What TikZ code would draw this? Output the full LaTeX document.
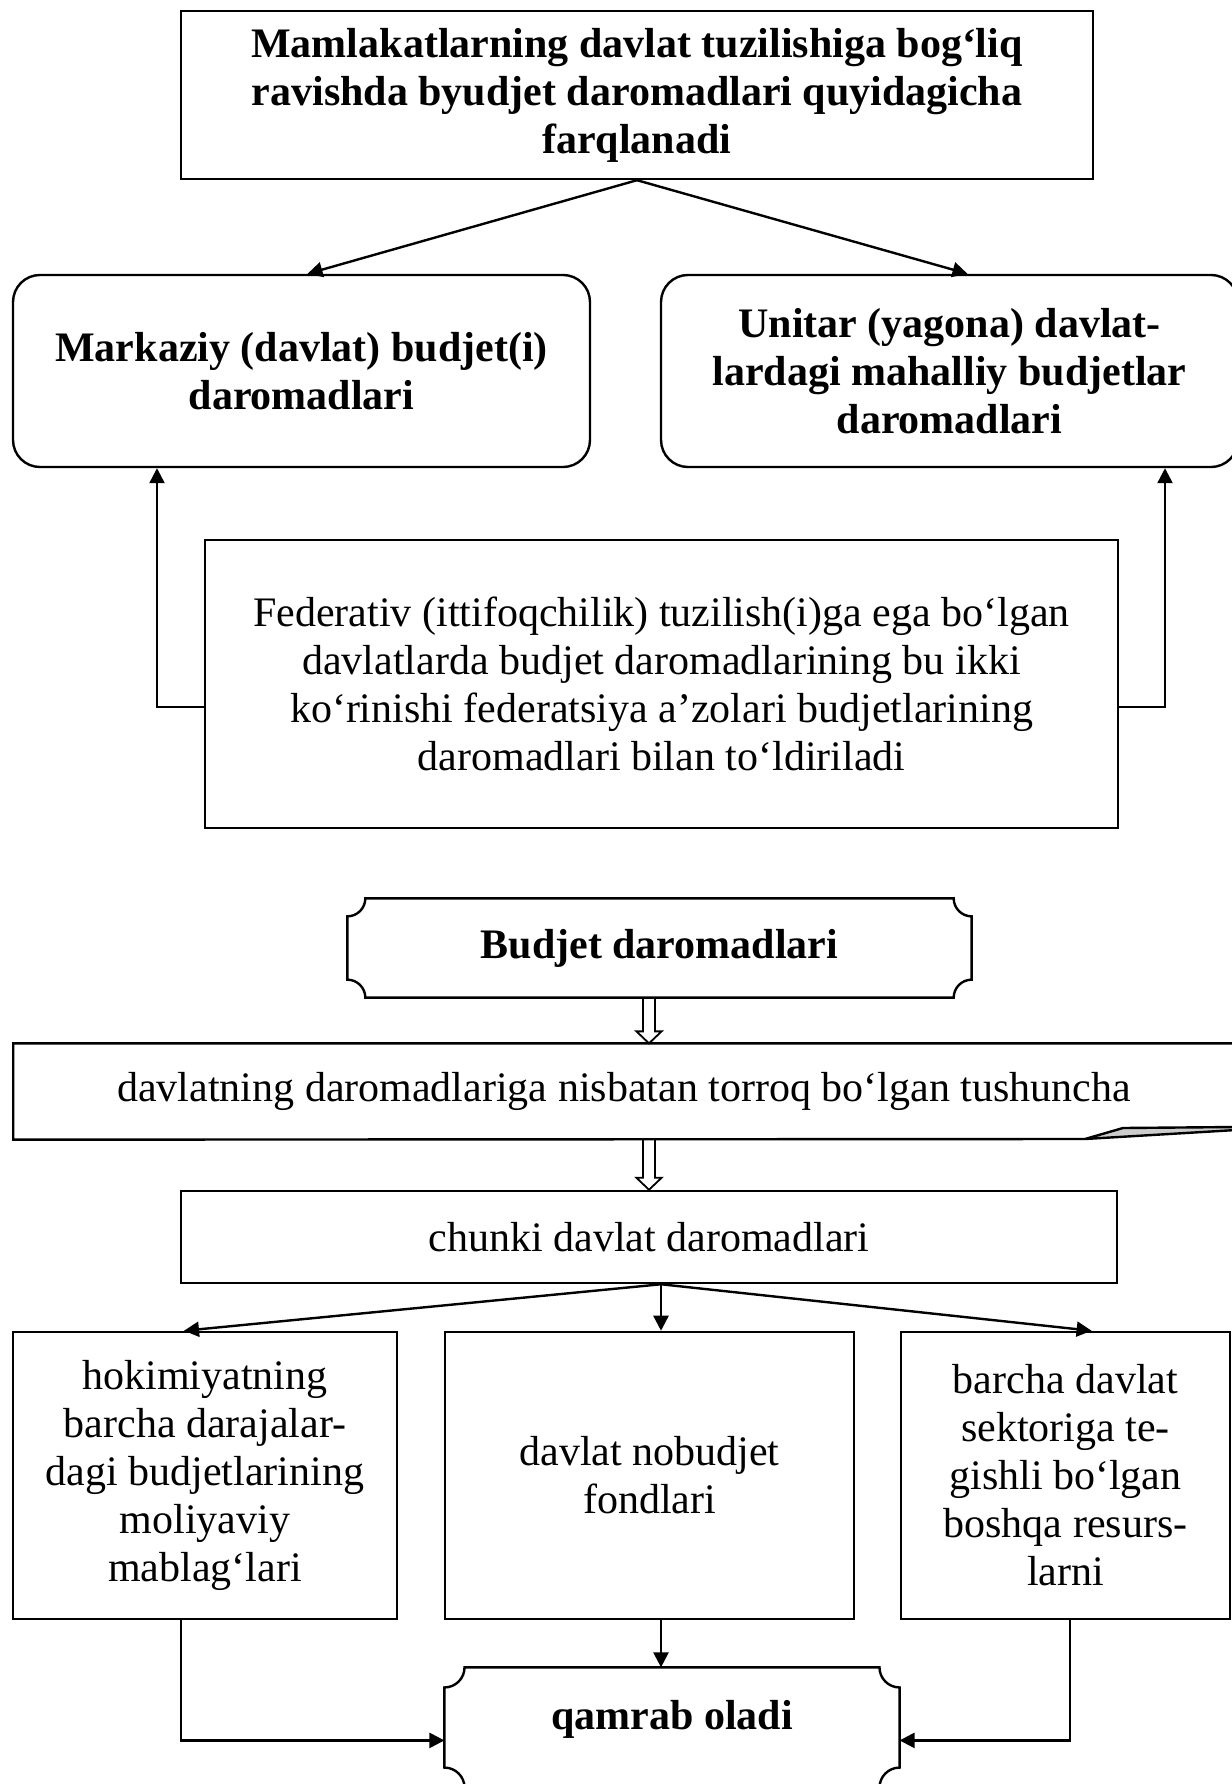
\documentclass[tikz,border=0pt]{standalone}
\usepackage{fontspec}
\setmainfont{Liberation Serif}
\usetikzlibrary{positioning, calc, arrows.meta}

% frame with concave corners round a node
\newcommand{\plaqueframe}[2]{%
  \draw[line width=0.8pt] ([xshift=#2]#1.north west) -- ([xshift=-#2]#1.north east)
    arc[start angle=180, end angle=270, radius=#2]
    -- ([yshift=#2]#1.south east)
    arc[start angle=90, end angle=180, radius=#2]
    -- ([xshift=#2]#1.south west)
    arc[start angle=0, end angle=90, radius=#2]
    -- ([yshift=-#2]#1.north west)
    arc[start angle=270, end angle=360, radius=#2]
    -- cycle;}

% hollow arrow pointing down
\newcommand{\hollowdown}[2]{%
  \draw[line width=0.6pt] let \p1=(#1), \p2=(#2) in
    (\x1-2pt,\y1) -- (\x1-2pt,\y2+4pt) -- (\x1-4.2pt,\y2+4pt) -- (\x1,\y2)
    -- (\x1+4.2pt,\y2+4pt) -- (\x1+2pt,\y2+4pt) -- (\x1+2pt,\y1);}

\begin{document}
\begin{tikzpicture}[x=0.3333pt, y=-0.3333pt,
every node/.style={text centered, align=center, inner sep=2pt, font=\fontsize{14}{16}\selectfont},
bold/.style={font=\fontsize{14}{16}\selectfont\bfseries},
box/.style={draw, line width=0.8pt},
roundbox/.style={draw, line width=0.8pt, rounded corners=9pt},
arrow/.style={-{Triangle[length=5pt, width=5pt]}, line width=0.8pt}]
    \useasboundingbox (0,0) rectangle (1231,1784);

    % upper scheme
    \node[box, bold, minimum width=304pt, minimum height=56pt] (types) at (637,95)
        {Mamlakatlarning davlat tuzilishiga bog‘liq\\ ravishda byudjet daromadlari quyidagicha\\ farqlanadi};
    \node[roundbox, bold, minimum width=192.3pt, minimum height=64pt] (central) at (301.5,371)
        {Markaziy (davlat) budjet(i)\\ daromadlari};
    \node[roundbox, bold, minimum width=192.3pt, minimum height=64pt] (unitar) at (949.5,371)
        {Unitar (yagona) davlat-\\ lardagi mahalliy budjetlar\\ daromadlari};
    \node[box, minimum width=304.3pt, minimum height=96pt] (federal) at (661.5,684)
        {Federativ (ittifoqchilik) tuzilish(i)ga ega bo‘lgan\\ davlatlarda budjet daromadlarining bu ikki\\ ko‘rinishi federatsiya a’zolari budjetlarining\\ daromadlari bilan to‘ldiriladi};

    \draw[arrow] (types.south) -- ([xshift=2pt]central.north);
    \draw[arrow] (types.south) -- ([xshift=6pt]unitar.north);

    \coordinate (fedleft) at (157,707);
    \coordinate (fedright) at (1165,707);
    \draw[arrow] (federal.west |- fedleft) -- (fedleft) -- (fedleft |- central.south);
    \draw[arrow] (federal.east |- fedright) -- (fedright) -- (fedright |- unitar.south);

    % lower scheme
    \node[bold, minimum width=207.7pt, minimum height=32.7pt] (budget) at (659.5,948) {Budjet daromadlari};
    \plaqueframe{budget}{6pt}
    \node[minimum width=406.7pt, minimum height=31.7pt] (broader) at (624,1091.5)
        {davlatning daromadlariga nisbatan torroq bo‘lgan tushuncha};
    \coordinate (foldA) at (1085,1139);
    \coordinate (foldB) at (1123,1128);
    \coordinate (foldC) at (1236,1127);
    \coordinate (foldD) at (1236,1130);
    \draw[line width=0.8pt] (foldA) -- (broader.south west) -- (broader.north west) -- (broader.north east) -- (foldD);
    \filldraw[fill=gray!40, line width=0.8pt, line join=round] (foldA) -- (foldB) -- (foldC) -- (foldD) -- cycle;
    \node[box, minimum width=312pt, minimum height=30.7pt] (because) at (649,1237) {chunki davlat daromadlari};

    \hollowdown{budget.south -| because.north}{broader.north -| because.north}
    \hollowdown{broader.south -| because.north}{because.north}

    \node[box, minimum width=128pt, minimum height=95.7pt] (levels) at (205,1475.5)
        {hokimiyatning\\ barcha darajalar-\\ dagi budjetlarining\\ moliyaviy\\ mablag‘lari};
    \node[box, minimum width=136.3pt, minimum height=95.7pt] (funds) at (649.5,1475.5)
        {davlat nobudjet\\ fondlari};
    \node[box, minimum width=109.7pt, minimum height=95.7pt] (sector) at (1065.5,1475.5)
        {barcha davlat\\ sektoriga te-\\ gishli bo‘lgan\\ boshqa resurs-\\ larni};
    \node[bold, text depth=8.5pt, minimum width=151.3pt, minimum height=39.7pt] (covers) at (672,1727.5) {qamrab oladi};
    \plaqueframe{covers}{6.7pt}

    \coordinate (split) at ([xshift=4pt]because.south);
    \draw[arrow] (split) -- ([xshift=-7pt]levels.north);
    \draw[arrow] (split) -- (split |- funds.north);
    \draw[arrow] (split) -- ([xshift=8.7pt]sector.north);
    \draw[arrow] ([xshift=-8pt]levels.south) |- ([yshift=-4.3pt]covers.west);
    \draw[arrow] (split |- funds.south) -- (split |- covers.north);
    \draw[arrow] ([xshift=1.5pt]sector.south) |- ([yshift=-4.3pt]covers.east);
\end{tikzpicture}
\end{document}
